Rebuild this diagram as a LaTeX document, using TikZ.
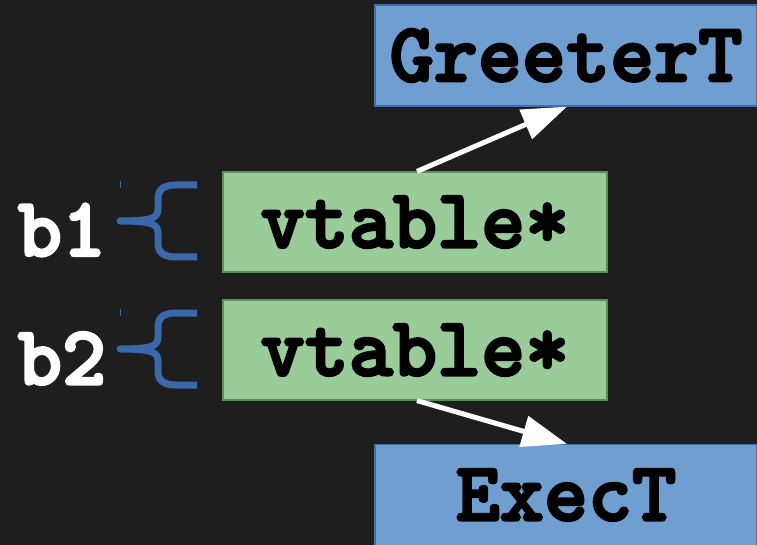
\documentclass[tikz,border=0pt]{standalone}
\usepackage{fontspec}
\newfontfamily\codefont{lmmonolt10-bold.otf}[FakeBold=3]
\usetikzlibrary{arrows.meta}
\definecolor{bg}{HTML}{1E1E1E}
\definecolor{typefill}{HTML}{6F9FD1}
\definecolor{typeedge}{HTML}{3E6FA8}
\definecolor{ptrfill}{HTML}{99CC99}
\definecolor{ptredge}{HTML}{5A8F5A}
\definecolor{bracecol}{HTML}{3A68AA}

\begin{document}
\begin{tikzpicture}[x=1pt,y=-1pt,
  code/.style={font=\codefont\fontsize{84}{84}\selectfont, text=black},
  typebox/.style={code, draw=typeedge, fill=typefill, line width=1.2pt,
    minimum width=382pt, minimum height=101pt, inner sep=0pt},
  ptrbox/.style={code, draw=ptredge, fill=ptrfill, line width=1.2pt,
    minimum width=384pt, minimum height=100pt, inner sep=0pt},
  lbl/.style={code, text=white, inner sep=0pt},
  link/.style={draw=white, line width=5pt, -{Triangle[length=45pt,width=31pt]}},
  bracestroke/.style={draw=bracecol, line width=7pt, line join=round},
  tick/.style={draw=bracecol, line width=1pt}
]
\useasboundingbox (0,0) rectangle (757,545);
\fill[bg] (0,0) rectangle (757,545);
\clip (0,0) rectangle (757,545);

% type objects
\node[typebox] (greeter) at (566,55.5) {GreeterT};
\node[typebox] (exec)    at (566,495)  {ExecT};

% vtable pointers
\node[ptrbox] (v1) at (415,222) {vtable*};
\node[ptrbox] (v2) at (415,350) {vtable*};

% variable labels
\node[lbl] (b1) at (62,230)   {b1};
\node[lbl] (b2) at (62,358.5) {b2};

% braces grouping each pointer
\foreach \cy in {221,349}{
  \draw[bracestroke, shift={(0,\cy)}]
    (197,-36) -- (176,-36) .. controls (163,-36) and (158,-31) .. (158,-22)
    -- (158,-12) .. controls (158,-3) and (152,0) .. (120,0)
    .. controls (152,0) and (158,3) .. (158,12)
    -- (158,22) .. controls (158,31) and (163,36) .. (176,36) -- (197,36);
  \draw[tick] (120,\cy-40) -- (120,\cy-33);
}

% pointer links
\draw[link] ([xshift=2pt]v1.north) -- ([xshift=1pt]greeter.south);
\draw[link] ([xshift=2pt]v2.south) -- ([xshift=1pt]exec.north);
\end{tikzpicture}
\end{document}
